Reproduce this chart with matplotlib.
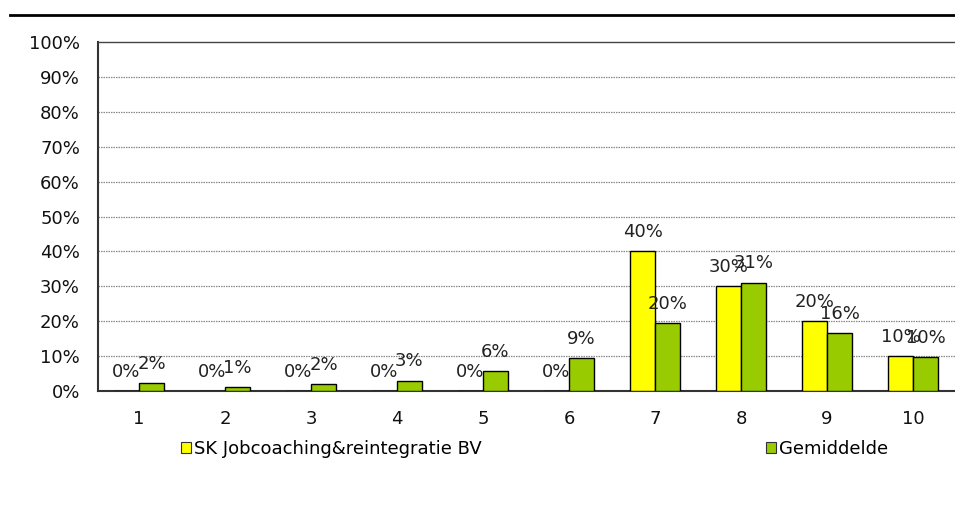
import matplotlib
matplotlib.use("Agg")
import matplotlib.pyplot as plt
from matplotlib.lines import Line2D
from matplotlib.patches import Patch
import numpy as np

categories = ["1", "2", "3", "4", "5", "6", "7", "8", "9", "10"]
sk_values = [0, 0, 0, 0, 0, 0, 40, 30, 20, 10]
gem_values = [2.2, 1.1, 2.0, 3.0, 5.7, 9.4, 19.5, 31, 16.5, 9.7]
sk_name = "SK Jobcoaching&reintegratie BV"
gem_name = "Gemiddelde"
yticks = [0, 10, 20, 30, 40, 50, 60, 70, 80, 90, 100]

YELLOW = "#FFFF00"
GREEN = "#99CC00"
FS = 13

plt.rcParams["font.family"] = ["DejaVu Sans"]

fig = plt.figure(figsize=(9.55, 5.08), dpi=100)
ax = fig.add_axes([98/955, 117/508, 1 - 98/955, (391-42)/508])

x = np.arange(1, len(categories) + 1)
w = 0.29
ax.bar(x - w/2, sk_values, width=w, color=YELLOW, edgecolor="black", linewidth=1, zorder=3)
ax.bar(x + w/2, gem_values, width=w, color=GREEN, edgecolor="black", linewidth=1, zorder=3)

for xi, v in zip(x - w/2, sk_values):
    ax.annotate(f"{round(v):d}%", (xi, v), xytext=(0, 14), textcoords="offset points",
                ha="center", va="center", fontsize=FS, color="#222222", zorder=4)
for xi, v in zip(x + w/2, gem_values):
    ax.annotate(f"{round(v):d}%", (xi, v), xytext=(0, 14), textcoords="offset points",
                ha="center", va="center", fontsize=FS, color="#222222", zorder=4)

ax.set_xlim(0.523, 10.488)
ax.set_ylim(0, 100)
ax.set_yticks(yticks)
ax.set_yticklabels([f"{t}%" for t in yticks], fontsize=FS, color="#111111")
ax.set_xticks(x)
ax.set_xticklabels(categories, fontsize=FS, color="#111111")
ax.tick_params(axis="both", length=0)
ax.tick_params(axis="y", pad=13)
ax.tick_params(axis="x", pad=14)

for t in yticks[1:-1]:
    ax.axhline(t, color="#888888", linewidth=0.9, linestyle=(0, (1.2, 0.8)), zorder=1)

ax.spines["right"].set_visible(False)
ax.spines["top"].set_color("#444444")
ax.spines["top"].set_linewidth(1)
ax.spines["left"].set_color("#333333")
ax.spines["left"].set_linewidth(1.5)
ax.spines["bottom"].set_color("#333333")
ax.spines["bottom"].set_linewidth(1.5)

fig.add_artist(Line2D([10/955, 1.0], [1 - 15/508, 1 - 15/508], color="black", linewidth=2))

h1 = Patch(facecolor=YELLOW, edgecolor="#333333", linewidth=0.8)
h2 = Patch(facecolor=GREEN, edgecolor="#333333", linewidth=0.8)
leg_kw = dict(frameon=False, fontsize=FS, handlelength=0.55, handleheight=0.55, handletextpad=0.15,
              loc="center left", borderaxespad=0, borderpad=0)
fig.legend([h1], [sk_name], bbox_to_anchor=(181/955, 1 - 449/508), **leg_kw)
fig.legend([h2], [gem_name], bbox_to_anchor=(766/955, 1 - 449/508), **leg_kw)

fig.savefig("out.png", dpi=100)
